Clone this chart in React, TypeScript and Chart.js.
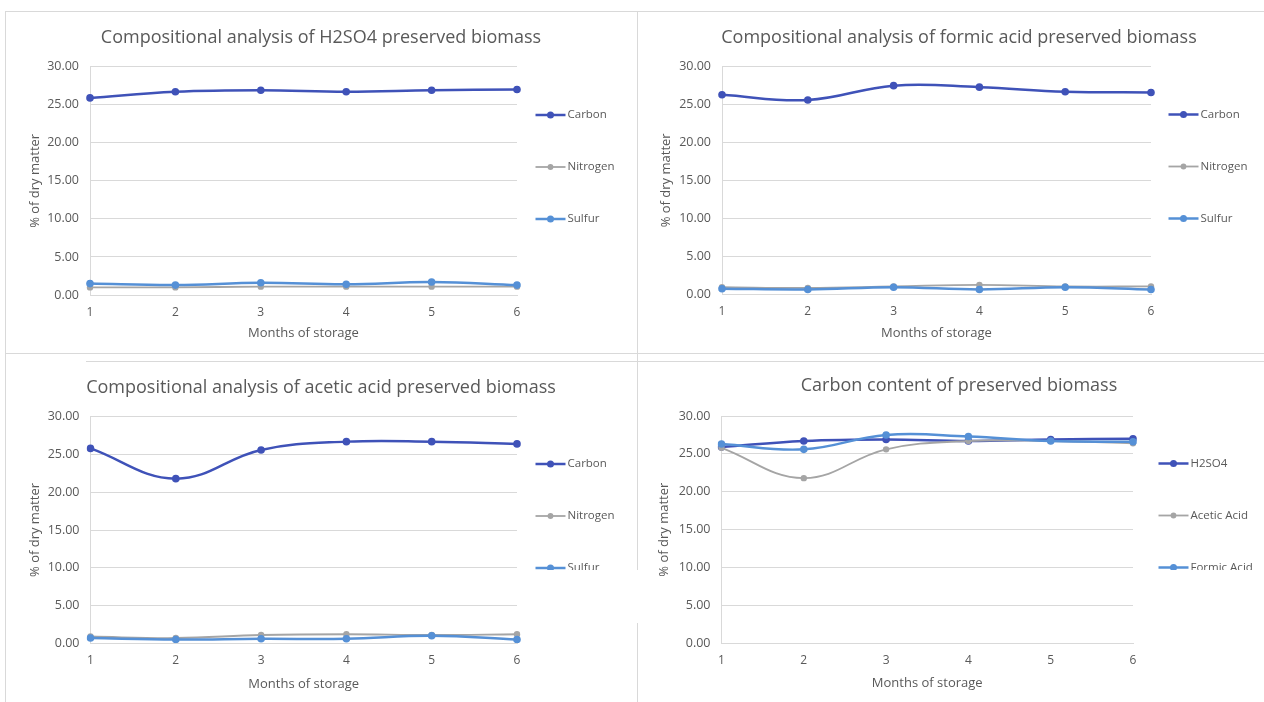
import React, { useEffect, useRef } from 'react';
import { Chart, registerables } from 'chart.js';

Chart.register(...registerables);

// ---------- data ----------
const months = ['1', '2', '3', '4', '5', '6'];
const yTicks = [0, 5, 10, 15, 20, 25, 30];

const h2so4Carbon = [25.9, 26.7, 26.9, 26.7, 26.9, 27.0];
const h2so4Nitrogen = [1.0, 1.0, 1.1, 1.1, 1.1, 1.1];
const h2so4Sulfur = [1.5, 1.3, 1.6, 1.4, 1.7, 1.3];

const formicCarbon = [26.3, 25.6, 27.5, 27.3, 26.7, 26.6];
const formicNitrogen = [0.9, 0.8, 1.0, 1.2, 1.0, 1.0];
const formicSulfur = [0.7, 0.6, 0.9, 0.6, 0.9, 0.6];

const aceticCarbon = [25.8, 21.8, 25.6, 26.7, 26.7, 26.4];
const aceticNitrogen = [0.9, 0.7, 1.1, 1.2, 1.1, 1.2];
const aceticSulfur = [0.7, 0.5, 0.6, 0.6, 1.0, 0.5];

const elementLabels = ['Carbon', 'Nitrogen', 'Sulfur'];
const preservativeLabels = ['H2SO4', 'Acetic Acid', 'Formic Acid'];

const titles = [
  'Compositional analysis of H2SO4 preserved biomass',
  'Compositional analysis of formic acid preserved biomass',
  'Compositional analysis of acetic acid preserved biomass',
  'Carbon content of preserved biomass',
];

// ---------- styles ----------
const DARK_BLUE = '#3f52b8';
const GRAY = '#a5a5a5';
const LIGHT_BLUE = '#5590d6';
const TEXT = '#595959';
const GRID = '#d9d9d9';
const FONT = '"Open Sans", "Noto Sans", sans-serif';

const seriesStyles = [
  { color: DARK_BLUE, width: 2.5, radius: 3.8 },
  { color: GRAY, width: 1.8, radius: 3.2 },
  { color: LIGHT_BLUE, width: 2.5, radius: 3.8 },
];

const panelText = {
  id: 'panelText',
  afterDraw(chart: any, _args: any, opts: any) {
    const ctx = chart.ctx;
    // centred title over the whole panel
    ctx.save();
    ctx.fillStyle = TEXT;
    ctx.font = `18px ${FONT}`;
    ctx.textAlign = 'center';
    ctx.textBaseline = 'middle';
    ctx.fillText(opts.title, chart.width / 2, opts.titleY);
    ctx.restore();
    // side legend
    chart.data.datasets.forEach((ds: any, i: number) => {
      const yy = opts.legendY + i * 52;
      const x = opts.legendX;
      ctx.save();
      ctx.strokeStyle = ds.borderColor;
      ctx.lineWidth = ds.borderWidth;
      ctx.beginPath();
      ctx.moveTo(x, yy);
      ctx.lineTo(x + 30, yy);
      ctx.stroke();
      ctx.fillStyle = ds.pointBackgroundColor;
      ctx.beginPath();
      ctx.arc(x + 15, yy, ds.pointRadius - 0.3, 0, Math.PI * 2);
      ctx.fill();
      ctx.fillStyle = TEXT;
      ctx.font = `11.5px ${FONT}`;
      ctx.textBaseline = 'middle';
      ctx.textAlign = 'left';
      ctx.fillText(ds.label, x + 32, yy);
      ctx.restore();
    });
  },
};

type Spec = {
  left: number;
  top: number;
  width: number;
  height: number;
  title: string;
  labels: string[];
  series: number[][];
  yWidth: number;
  rightPad: number;
  chartTop: number;
  titleY: number;
  xHeight: number;
  xTitleBottom: number;
  yTitleTop: number;
  legendX: number;
  legendY: number;
};

function ChartPanel({ spec }: { spec: Spec }) {
  const ref = useRef<HTMLCanvasElement>(null);
  useEffect(() => {
    if (!ref.current) return;
    const chart = new Chart(ref.current, {
      type: 'line',
      data: {
        labels: months,
        datasets: spec.series.map((values, i) => ({
          label: spec.labels[i],
          data: values,
          borderColor: seriesStyles[i].color,
          backgroundColor: seriesStyles[i].color,
          pointBackgroundColor: seriesStyles[i].color,
          pointBorderColor: seriesStyles[i].color,
          pointBorderWidth: 0,
          borderWidth: seriesStyles[i].width,
          pointRadius: seriesStyles[i].radius,
          tension: 0.4,
          fill: false,
          order: 3 - i,
        })),
      },
      options: {
        responsive: false,
        animation: false,
        layout: { padding: { top: spec.chartTop, right: spec.rightPad, bottom: 0, left: 0 } },
        plugins: {
          legend: { display: false },
          tooltip: { enabled: false },
          title: { display: false },
          panelText: {
            title: spec.title,
            titleY: spec.titleY,
            legendX: spec.legendX,
            legendY: spec.legendY,
          },
        } as any,
        scales: {
          x: {
            offset: false,
            grid: { display: false, drawTicks: false },
            border: { display: true, color: GRID },
            ticks: { color: TEXT, font: { family: FONT, size: 12 }, padding: 10 },
            title: {
              display: true,
              text: 'Months of storage',
              color: TEXT,
              font: { family: FONT, size: 13, lineHeight: 1.2 },
              padding: { top: 0, bottom: spec.xTitleBottom },
            },
            afterFit: (s: any) => {
              s.height = spec.xHeight;
            },
          },
          y: {
            min: 0,
            max: 30,
            afterBuildTicks: (s: any) => {
              s.ticks = yTicks.map((v) => ({ value: v }));
            },
            grid: { color: GRID, lineWidth: 1, drawTicks: false },
            border: { display: true, color: GRID },
            ticks: {
              color: TEXT,
              font: { family: FONT, size: 12.5 },
              padding: 11,
              callback: (v: any) => Number(v).toFixed(2),
            },
            title: {
              display: true,
              text: '% of dry matter',
              color: TEXT,
              font: { family: FONT, size: 13, lineHeight: 1.2 },
              padding: { top: spec.yTitleTop, bottom: 0 },
            },
            afterFit: (s: any) => {
              s.width = spec.yWidth;
            },
          },
        },
      },
      plugins: [panelText],
    });
    return () => chart.destroy();
  }, [spec]);
  return (
    <canvas
      ref={ref}
      width={spec.width}
      height={spec.height}
      style={{ position: 'absolute', left: spec.left, top: spec.top, width: spec.width, height: spec.height }}
    />
  );
}

const specs: Spec[] = [
  {
    left: 5, top: 10, width: 632, height: 347,
    title: titles[0], labels: elementLabels,
    series: [h2so4Carbon, h2so4Nitrogen, h2so4Sulfur],
    yWidth: 85, rightPad: 120, chartTop: 56.7, titleY: 27.8,
    xHeight: 62, xTitleBottom: 16, yTitleTop: 22, legendX: 530.5, legendY: 105,
  },
  {
    left: 639, top: 10, width: 640, height: 347,
    title: titles[1], labels: elementLabels,
    series: [formicCarbon, formicNitrogen, formicSulfur],
    yWidth: 83, rightPad: 128, chartTop: 56.7, titleY: 27.8,
    xHeight: 63, xTitleBottom: 16, yTitleTop: 19, legendX: 529.5, legendY: 104.5,
  },
  {
    left: 5, top: 360, width: 632, height: 342,
    title: titles[2], labels: elementLabels,
    series: [aceticCarbon, aceticNitrogen, aceticSulfur],
    yWidth: 85.5, rightPad: 120, chartTop: 56.7, titleY: 27.8,
    xHeight: 58.7, xTitleBottom: 10, yTitleTop: 22, legendX: 530.5, legendY: 104,
  },
  {
    left: 639, top: 360, width: 640, height: 342,
    title: titles[3], labels: preservativeLabels,
    series: [h2so4Carbon, aceticCarbon, formicCarbon],
    yWidth: 82.5, rightPad: 146, chartTop: 56, titleY: 26,
    xHeight: 58.7, xTitleBottom: 10.5, yTitleTop: 17, legendX: 519.5, legendY: 103.5,
  },
];

const line = (s: React.CSSProperties): React.CSSProperties => ({ position: 'absolute', background: GRID, ...s });
const patch = (s: React.CSSProperties): React.CSSProperties => ({ position: 'absolute', background: '#ffffff', ...s });

export default function App() {
  return (
    <div
      style={{
        position: 'absolute',
        left: 0,
        top: 0,
        width: 1264,
        height: 702,
        overflow: 'hidden',
        background: '#ffffff',
      }}
    >
      {/* panel frames */}
      <div style={line({ left: 5, top: 11, width: 1259, height: 1 })} />
      <div style={line({ left: 5, top: 11, width: 1, height: 691 })} />
      <div style={line({ left: 637, top: 11, width: 1, height: 691 })} />
      <div style={line({ left: 5, top: 353, width: 1259, height: 1 })} />
      <div style={line({ left: 86, top: 361, width: 551, height: 1 })} />
      <div style={line({ left: 638, top: 361, width: 626, height: 1 })} />
      {specs.map((s, i) => (
        <ChartPanel key={i} spec={s} />
      ))}
      {/* white cut-outs present in the source image */}
      <div style={patch({ left: 518, top: 570, width: 123, height: 53 })} />
      <div style={patch({ left: 1150, top: 570, width: 114, height: 30 })} />
    </div>
  );
}
